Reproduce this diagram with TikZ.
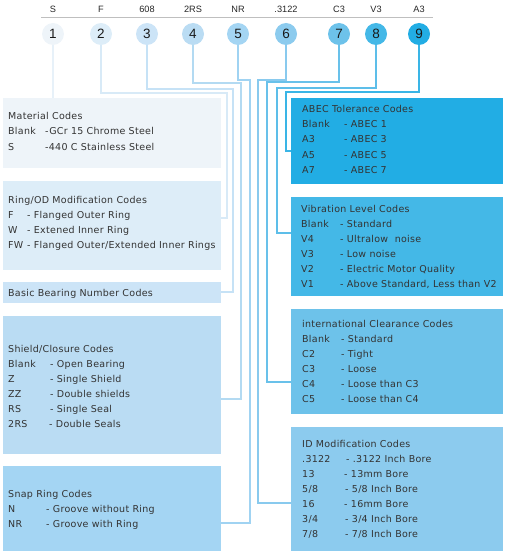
\documentclass[tikz,border=0pt]{standalone}
\usepackage{fontspec}
\setmainfont{DejaVu Sans}[LetterSpace=3]
\newfontfamily\arialf{Liberation Sans}
\definecolor{k1}{HTML}{EEF4F9}
\definecolor{k2}{HTML}{DDEDF8}
\definecolor{k3}{HTML}{CCE4F7}
\definecolor{k4}{HTML}{BADCF3}
\definecolor{k5}{HTML}{A4D5F3}
\definecolor{k6}{HTML}{8CCBEE}
\definecolor{k7}{HTML}{6DC2EA}
\definecolor{k8}{HTML}{44B8E7}
\definecolor{k9}{HTML}{22ADE4}
\definecolor{txtc}{HTML}{333333}
\tikzset{
  x=1pt, y=-1pt,
  circ/.style={circle, inner sep=0pt, minimum size=22pt, font=\arialf\fontsize{13.5}{13.5}\selectfont, text=black!90},
  toplbl/.style={font=\arialf\fontsize{9.2}{9.2}\selectfont, text=black!85, anchor=base},
  codebox/.style={rectangle, inner sep=0pt, anchor=north west},
  txt/.style={anchor=base west, inner sep=0pt, font=\fontsize{9.5}{10}\selectfont, text=txtc},
  conn/.style={line width=1.3pt},
}
\newcommand\cw[2]{\makebox[#1][l]{#2}}
\begin{document}
\begin{tikzpicture}
\useasboundingbox (0,0) rectangle (507,556);
% top labels
\draw[black!25, line width=0.8pt] (41,17) coordinate (tl) -- (433,17) coordinate (tr);
\node[toplbl] (t1) at (53,13) {S};
\node[toplbl] (t2) at (101,13) {F};
\node[toplbl] (t3) at (147,13) {608};
\node[toplbl] (t4) at (193,13) {2RS};
\node[toplbl] (t5) at (238,13) {NR};
\node[toplbl] (t6) at (286,13) {.3122};
\node[toplbl] (t7) at (339,13) {C3};
\node[toplbl] (t8) at (376,13) {V3};
\node[toplbl] (t9) at (419,13) {A3};
% circles
\node[circ, fill=k1] (c1) at (53,34) {1};
\node[circ, fill=k2] (c2) at (101,34) {2};
\node[circ, fill=k3] (c3) at (147,34) {3};
\node[circ, fill=k4] (c4) at (193,34) {4};
\node[circ, fill=k5] (c5) at (238,34) {5};
\node[circ, fill=k6] (c6) at (286,34) {6};
\node[circ, fill=k7] (c7) at (339,34) {7};
\node[circ, fill=k8] (c8) at (376,34) {8};
\node[circ, fill=k9] (c9) at (419,34) {9};
% boxes left
\node[codebox, fill=k1, minimum width=218pt, minimum height=70pt] (b1) at (3,98) {};
\node[codebox, fill=k2, minimum width=218pt, minimum height=89pt] (b2) at (3,181) {};
\node[codebox, fill=k3, minimum width=218pt, minimum height=21pt] (b3) at (3,282) {};
\node[codebox, fill=k4, minimum width=218pt, minimum height=138pt] (b4) at (3,316) {};
\node[codebox, fill=k5, minimum width=218pt, minimum height=85pt] (b5) at (3,466) {};
% boxes right
\node[codebox, fill=k9, minimum width=212pt, minimum height=86pt] (b9) at (291,98) {};
\node[codebox, fill=k8, minimum width=212pt, minimum height=99pt] (b8) at (291,197) {};
\node[codebox, fill=k7, minimum width=212pt, minimum height=105pt] (b7) at (291,309) {};
\node[codebox, fill=k6, minimum width=212pt, minimum height=124pt] (b6) at (291,427) {};
% connectors
\draw[conn, k1!80!k3] (c1.south) -- (c1 |- b1.north);
\draw[conn, k2!85!k4] (c2.south) |- (227,93) |- (b2.east |- 0,218);
\draw[conn, k3!85!k5] (c3.south) |- (233,89) |- (b3.east |- 0,292);
\draw[conn, k4!85!k6] (c4.south) |- (241,83) |- (b4.east |- 0,399);
\draw[conn, k5!85!k6] (c5.south) |- (250,80) |- (b5.east |- 0,523);
\draw[conn, k6!90!k7] (c6.south) |- (258,80) |- (b6.west |- 0,503);
\draw[conn, k7!90!k8] (c7.south) |- (267,82) |- (b7.west |- 0,382);
\draw[conn, k7!60!k8] (c8.south) |- (277,88) |- (b8.west |- 0,233);
\draw[conn, k8!70!k9] (c9.south) |- (286,92) |- (b9.west |- 0,151);
% texts box 1
\node[txt] (m0) at (8,120) {Material Codes};
\node[txt] (m1) at (8,135) {\cw{37pt}{Blank}-GCr 15 Chrome Steel};
\node[txt] (m2) at (8,150) {\cw{37pt}{S}-440 C Stainless Steel};
% box 2
\node[txt] (r0) at (8,203) {Ring/OD Modification Codes};
\node[txt] (r1) at (8,218) {\cw{19pt}{F}- Flanged Outer Ring};
\node[txt] (r2) at (8,233) {\cw{19pt}{W}- Extened Inner Ring};
\node[txt] (r3) at (8,248) {\cw{19pt}{FW}- Flanged Outer/Extended Inner Rings};
% box 3
\node[txt] (n0) at (8,296) {Basic Bearing Number Codes};
% box 4
\node[txt] (s0) at (8,352) {Shield/Closure Codes};
\node[txt] (s1) at (8,367) {\cw{42pt}{Blank}- Open Bearing};
\node[txt] (s2) at (8,382) {\cw{42pt}{Z}- Single Shield};
\node[txt] (s3) at (8,397) {\cw{42pt}{ZZ}- Double shields};
\node[txt] (s4) at (8,412) {\cw{42pt}{RS}- Single Seal};
\node[txt] (s5) at (8,427) {\cw{41pt}{2RS}- Double Seals};
% box 5
\node[txt] (p0) at (8,497) {Snap Ring Codes};
\node[txt] (p1) at (8,512) {\cw{38pt}{N}- Groove without Ring};
\node[txt] (p2) at (8,527) {\cw{38pt}{NR}- Groove with Ring};
% box 9
\node[txt] (a0) at (302,113) {ABEC Tolerance Codes};
\node[txt] (a1) at (302,128) {\cw{42pt}{Blank}- ABEC 1};
\node[txt] (a2) at (302,143) {\cw{42pt}{A3}- ABEC 3};
\node[txt] (a3) at (302,158) {\cw{42pt}{A5}- ABEC 5};
\node[txt] (a4) at (302,173) {\cw{42pt}{A7}- ABEC 7};
% box 8
\node[txt] (v0) at (301,212) {Vibration Level Codes};
\node[txt] (v1) at (301,227) {\cw{39pt}{Blank}- Standard};
\node[txt] (v2) at (301,242) {\cw{39pt}{V4}- Ultralow\ \ noise};
\node[txt] (v3) at (301,257) {\cw{39pt}{V3}- Low noise};
\node[txt] (v4) at (301,272) {\cw{39pt}{V2}- Electric Motor Quality};
\node[txt] (v5) at (301,287) {\cw{39pt}{V1}- Above Standard, Less than V2};
% box 7
\node[txt] (i0) at (302,327) {international Clearance Codes};
\node[txt] (i1) at (302,342) {\cw{39pt}{Blank}- Standard};
\node[txt] (i2) at (302,357) {\cw{39pt}{C2}- Tight};
\node[txt] (i3) at (302,372) {\cw{39pt}{C3}- Loose};
\node[txt] (i4) at (302,387) {\cw{39pt}{C4}- Loose than C3};
\node[txt] (i5) at (302,402) {\cw{39pt}{C5}- Loose than C4};
% box 6
\node[txt] (d0) at (302,447) {ID Modification Codes};
\node[txt] (d1) at (302,462) {\cw{44pt}{.3122}- .3122 Inch Bore};
\node[txt] (d2) at (302,477) {\cw{42pt}{13}- 13mm Bore};
\node[txt] (d3) at (302,492) {\cw{43pt}{5/8}- 5/8 Inch Bore};
\node[txt] (d4) at (302,507) {\cw{42pt}{16}- 16mm Bore};
\node[txt] (d5) at (302,522) {\cw{43pt}{3/4}- 3/4 Inch Bore};
\node[txt] (d6) at (302,537) {\cw{43pt}{7/8}- 7/8 Inch Bore};
\end{tikzpicture}
\end{document}
